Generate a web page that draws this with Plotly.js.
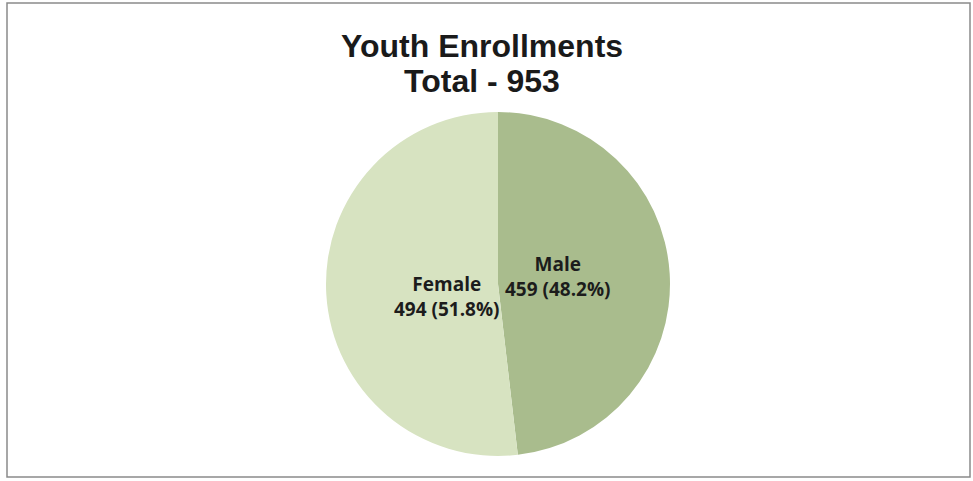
<!DOCTYPE html>
<html>
<head>
<meta charset="utf-8">
<script src="https://cdn.plot.ly/plotly-3.0.1.min.js"></script>
<style>html,body{margin:0;padding:0;background:#fff;}#chart{width:973px;height:481px;}</style>
</head>
<body>
<div id="chart"></div>
<script>
var categories = ["Male", "Female"];
var values = [459, 494];
var sliceColors = ["#a9bc8d", "#d7e3c1"];
var titleLines = ["Youth Enrollments", "Total - 953"];

var total = values.reduce(function(a, b){ return a + b; }, 0);
var labelText = categories.map(function(c, i){
  return "<b>" + c + "<br>" + values[i] + " (" + (values[i] / total * 100).toFixed(1) + "%)</b>";
});

var W = 973, H = 481;
function px(x){ return x / W; }
function py(y){ return 1 - y / H; }

var trace = {
  type: "pie",
  labels: categories,
  values: values,
  textinfo: "none",
  hoverinfo: "label+value+percent",
  sort: false,
  direction: "clockwise",
  rotation: 0,
  marker: {colors: sliceColors, line: {width: 0}},
  domain: {x: [px(326), px(670)], y: [py(456), py(112)]},
  showlegend: false
};

// label anchor positions (in pixels) for each category's data label
var labelPos = [[558, 276], [447, 296]];

var annotations = [];
titleLines.forEach(function(t, i){
  annotations.push({
    text: "<b>" + t + "</b>", xref: "paper", yref: "paper",
    x: px(482), y: py(46 + i * 35), xanchor: "center", yanchor: "middle",
    showarrow: false,
    font: {family: "Liberation Sans, Arial, sans-serif", size: 32, color: "#1a1a1a"}
  });
});
categories.forEach(function(c, i){
  annotations.push({
    text: labelText[i], xref: "paper", yref: "paper",
    x: px(labelPos[i][0]), y: py(labelPos[i][1]), xanchor: "center", yanchor: "middle",
    showarrow: false, align: "center",
    font: {family: "Open Sans, DejaVu Sans, sans-serif", size: 19, color: "#1c1c1c"}
  });
});

var layout = {
  width: W, height: H,
  margin: {l: 0, r: 0, t: 0, b: 0},
  paper_bgcolor: "#ffffff",
  annotations: annotations,
  shapes: [{
    type: "rect", xref: "paper", yref: "paper",
    x0: px(7), x1: px(970), y0: py(477), y1: py(3),
    line: {color: "#8a8a8a", width: 1.5}
  }]
};

Plotly.newPlot("chart", [trace], layout, {displayModeBar: false, staticPlot: true});
</script>
</body>
</html>
